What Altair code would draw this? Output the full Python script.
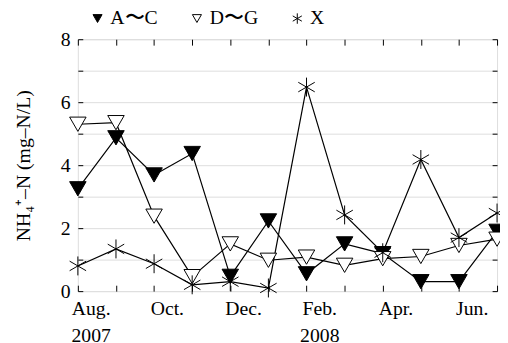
import altair as alt
import pandas as pd

months = ["Aug.", "Sep.", "Oct.", "Nov.", "Dec.", "Jan.", "Feb.", "Mar.", "Apr.", "May", "Jun.", "Jul."]
shown_months = ["Aug.", "Oct.", "Dec.", "Feb.", "Apr.", "Jun."]
year_months = ["Aug.", "Feb."]
year_labels = ["2007", "2008"]

series_names = ["A〜C", "D〜G", "X"]
abc = [3.25, 4.87, 3.69, 4.37, 0.47, 2.23, 0.55, 1.50, 1.19, 0.30, 0.30, 1.90]
deg = [5.30, 5.35, 2.38, 0.46, 1.50, 0.98, 1.08, 0.82, 1.03, 1.10, 1.45, 1.65]
xs = [0.80, 1.34, 0.87, 0.20, 0.30, 0.10, 6.48, 2.42, 1.22, 4.18, 1.70, 2.48]
y_ticks = [0, 1, 2, 3, 4, 5, 6, 7, 8]

rows = []
for name, vals in zip(series_names, [abc, deg, xs]):
    for m, v in zip(months, vals):
        rows.append({"month": m, "series": name, "value": v})
df = pd.DataFrame(rows)

FONT = "Liberation Serif"
ASTERISK = "M0,-1.15L0,1.15M-1,-0.58L1,0.58M-1,0.58L1,-0.58"

shown_list = "[" + ",".join("'%s'" % m for m in shown_months) + "]"
expr = "indexof(%s, datum.value) >= 0 ? datum.value : ''" % shown_list
for m, yl in zip(year_months, year_labels):
    expr = "datum.value == '%s' ? ['%s', '%s'] : (%s)" % (m, m, yl, expr)

xscale = alt.Scale(type="point", padding=0, domain=months)
yscale = alt.Scale(domain=[0, 8], nice=False, zero=True)

legend = alt.Legend(
    title=None, orient="none", legendX=10, legendY=-31, direction="horizontal",
    padding=0, symbolSize=85, labelFont=FONT, labelFontSize=20, labelColor="black",
    labelOffset=3, columnPadding=30, symbolStrokeWidth=1,
)

lines = alt.Chart(df).mark_line(color="black", strokeWidth=1.2).encode(
    x=alt.X("month:O", scale=xscale, sort=months,
            axis=alt.Axis(orient="bottom", title=None, domain=False, offset=-6, tickSize=6,
                          tickColor="black", labelPadding=8, labelExpr=expr, labelAngle=0,
                          labelAlign="center", labelBaseline="top", labelOffset=13,
                          labelFont=FONT, labelFontSize=20, labelColor="black",
                          labelLineHeight=27, labelOverlap=False)),
    y=alt.Y("value:Q", scale=yscale,
            axis=alt.Axis(orient="left", values=y_ticks, domain=False, offset=-5, tickSize=5,
                          tickColor="black", labelPadding=8,
                          labelExpr="datum.value % 2 == 0 ? datum.label : ''",
                          labelFont=FONT, labelFontSize=20, labelColor="black",
                          title="NH₄⁺–N (mg–N/L)", titleFont=FONT, titleFontSize=20,
                          titleFontWeight="normal", titleColor="black", titlePadding=27)),
    detail="series:N",
)

points = alt.Chart(df).mark_point(strokeWidth=1, opacity=1, size=280).encode(
    x=alt.X("month:O", scale=xscale, sort=months,
            axis=alt.Axis(orient="top", title=None, domain=False, offset=-6, tickSize=6,
                          tickColor="black", labels=False)),
    y=alt.Y("value:Q", scale=yscale,
            axis=alt.Axis(orient="right", title=None, values=y_ticks, domain=False, offset=-5,
                          tickSize=5, tickColor="black", labels=False)),
    shape=alt.Shape("series:N", scale=alt.Scale(domain=series_names,
                    range=["triangle-down", "triangle-down", ASTERISK]), legend=legend),
    fill=alt.Fill("series:N", scale=alt.Scale(domain=series_names,
                  range=["black", "white", "transparent"]), legend=legend),
    stroke=alt.Stroke("series:N", scale=alt.Scale(domain=series_names,
                      range=["black", "black", "black"]), legend=legend),
)

chart = alt.layer(lines, points).resolve_axis(x="independent", y="independent").properties(
    width=426, height=256,
    autosize=alt.AutoSizeParams(type="none"),
    padding={"left": 71, "top": 29, "right": 3, "bottom": 50},
).configure_view(stroke="black", strokeWidth=1.2).configure(background="white", font=FONT)

chart.save("out.html", embed_options={"renderer": "svg", "actions": False})
